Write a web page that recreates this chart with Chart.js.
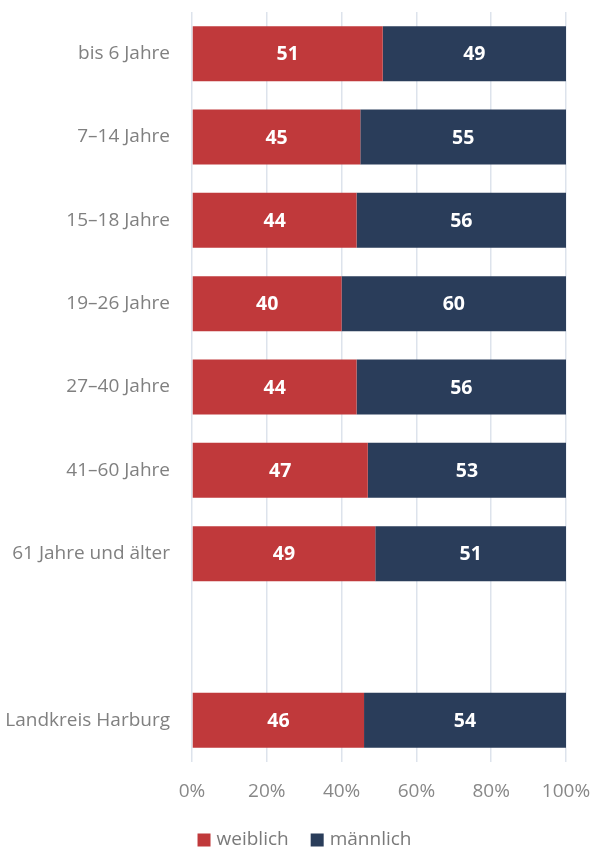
<!DOCTYPE html>
<html><head><meta charset="utf-8">
<script src="https://cdn.jsdelivr.net/npm/chart.js@4"></script>
<style>html,body{margin:0;padding:0;background:#fff}#wrap{width:593px;height:848px}</style>
</head><body><div id="wrap"><canvas id="c" width="593" height="848"></canvas></div>
<script>
const categories = ["bis 6 Jahre","7–14 Jahre","15–18 Jahre","19–26 Jahre","27–40 Jahre","41–60 Jahre","61 Jahre und älter","","Landkreis Harburg"];
const weiblich = [51,45,44,40,44,47,49,null,46];
const maennlich = [49,55,56,60,56,53,51,null,54];
const xTicks = [0,20,40,60,80,100];
const seriesNames = ["weiblich","männlich"];
const seriesColors = ['#C0393B','#2A3D5A'];

const FONT = "'Open Sans', 'Segoe UI', sans-serif";
const labelPlugin = {
  id:'barLabels',
  afterDatasetsDraw(chart){
    const ctx = chart.ctx;
    ctx.save();
    ctx.font = "bold 19.5px " + FONT;
    ctx.fillStyle = "#fff";
    ctx.textAlign = "center";
    ctx.textBaseline = "middle";
    chart.data.datasets.forEach((ds,i)=>{
      chart.getDatasetMeta(i).data.forEach((bar,j)=>{
        const v = ds.data[j];
        if(v==null) return;
        const cx = (bar.x + bar.base)/2;
        ctx.fillText(String(v), cx, bar.y+1);
      });
    });
    ctx.restore();
  }
};
const legendPlugin = {
  id:'customLegend',
  afterDraw(chart){
    const ctx = chart.ctx;
    ctx.save();
    ctx.font = "19px " + FONT;
    ctx.textBaseline = "middle";
    ctx.textAlign = "left";
    const box = 13, gapText = 6, gapItem = 22;
    const items = chart.data.datasets.map(d=>({t:d.label,c:d.backgroundColor,w:ctx.measureText(d.label).width}));
    const total = items.reduce((a,it)=>a+box+gapText+it.w,0) + gapItem*(items.length-1);
    let x = 304.5 - total/2;
    const cy = 840;
    items.forEach(it=>{
      ctx.fillStyle = it.c;
      ctx.fillRect(x, cy-6.5, box, box);
      x += box + gapText;
      ctx.fillStyle = '#7a7a7a';
      ctx.fillText(it.t, x, cy);
      x += it.w + gapItem;
    });
    ctx.restore();
  }
};
function zeroPad(s){s.paddingTop=0;s.paddingBottom=0;s.paddingLeft=0;s.paddingRight=0;}

new Chart(document.getElementById('c'),{
  type:'bar',
  data:{labels:categories,datasets:[
    {label:seriesNames[0],data:weiblich,backgroundColor:seriesColors[0],barPercentage:0.66,categoryPercentage:1},
    {label:seriesNames[1],data:maennlich,backgroundColor:seriesColors[1],barPercentage:0.66,categoryPercentage:1}
  ]},
  options:{
    indexAxis:'y',responsive:false,animation:false,
    layout:{padding:{top:12,right:27,left:0,bottom:0}},
    plugins:{legend:{display:false},tooltip:{enabled:false}},
    scales:{
      x:{stacked:true,min:0,max:100,
        afterBuildTicks(s){s.ticks = xTicks.map(v=>({value:v}));},
        afterFit(s){s.height=86;zeroPad(s);},
        grid:{color:'#DDE3EC',lineWidth:1.5,drawTicks:false},
        border:{display:false},
        ticks:{padding:18,font:{family:FONT,size:19},color:'#888',callback:v=>v+'%'}
      },
      y:{stacked:true,
        afterFit(s){s.width=192;zeroPad(s);},
        grid:{display:false},border:{display:false},
        ticks:{padding:14,font:{family:FONT,size:19},color:'#808080'}
      }
    }
  },
  plugins:[labelPlugin,legendPlugin]
});
</script></body></html>
